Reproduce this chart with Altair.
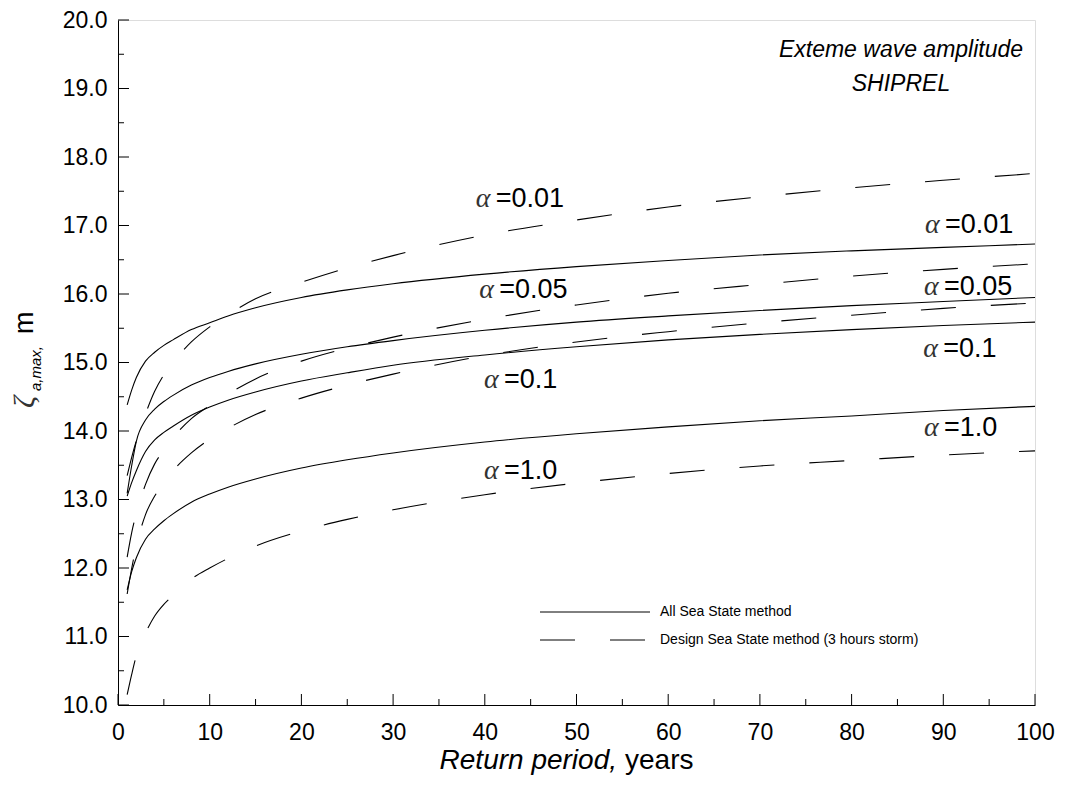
import altair as alt
import pandas as pd

# ---------------- data ----------------
x_years = [1, 1.5, 2, 3, 4, 5, 6, 8, 10, 12, 15, 20, 25, 30, 40, 50, 60, 70, 80, 90, 100]

# All Sea State method (solid)
all_001 = [14.38, 14.60, 14.78, 15.02, 15.15, 15.25, 15.33, 15.48, 15.58, 15.68, 15.80, 15.95, 16.06, 16.15, 16.29, 16.40, 16.49, 16.57, 16.63, 16.68, 16.73]
all_005 = [13.09, 13.50, 13.85, 14.16, 14.32, 14.43, 14.52, 14.67, 14.78, 14.87, 14.98, 15.12, 15.23, 15.32, 15.47, 15.59, 15.68, 15.76, 15.83, 15.89, 15.95]
all_01 = [13.05, 13.25, 13.42, 13.70, 13.87, 13.98, 14.07, 14.23, 14.35, 14.45, 14.57, 14.73, 14.85, 14.96, 15.11, 15.23, 15.33, 15.41, 15.48, 15.54, 15.59]
all_10 = [11.68, 11.95, 12.15, 12.42, 12.57, 12.69, 12.79, 12.96, 13.08, 13.18, 13.30, 13.46, 13.58, 13.68, 13.84, 13.96, 14.06, 14.15, 14.22, 14.30, 14.36]

# Design Sea State method, 3 hours storm (dashed)
dss_001 = [13.35, 13.62, 13.86, 14.25, 14.58, 14.82, 15.00, 15.30, 15.52, 15.70, 15.93, 16.17, 16.38, 16.56, 16.86, 17.08, 17.27, 17.42, 17.55, 17.66, 17.76]
dss_005 = [12.16, 12.52, 12.80, 13.22, 13.52, 13.72, 13.90, 14.18, 14.37, 14.54, 14.76, 15.02, 15.21, 15.37, 15.63, 15.84, 16.01, 16.14, 16.26, 16.36, 16.44]
dss_01 = [11.62, 12.00, 12.32, 12.78, 13.05, 13.25, 13.42, 13.68, 13.88, 14.04, 14.24, 14.48, 14.67, 14.83, 15.10, 15.30, 15.45, 15.58, 15.69, 15.79, 15.87]
dss_10 = [10.15, 10.45, 10.72, 11.05, 11.30, 11.47, 11.60, 11.84, 12.00, 12.14, 12.32, 12.54, 12.71, 12.85, 13.07, 13.24, 13.38, 13.49, 13.57, 13.65, 13.71]

alphas = ["0.01", "0.05", "0.1", "1.0"]

# curve labels (alpha values) and where they sit
label_text = ["=0.01", "=0.05", "=0.1", "=1.0", "=0.01", "=0.05", "=0.1", "=1.0"]
label_x = [39.0, 39.4, 39.9, 39.9, 88.0, 87.9, 87.8, 87.9]
label_y = [17.27, 15.94, 14.63, 13.30, 16.89, 15.99, 15.08, 13.93]

x_major = list(range(0, 101, 10))
x_minor = list(range(5, 100, 10))
y_major = [10.0, 11.0, 12.0, 13.0, 14.0, 15.0, 16.0, 17.0, 18.0, 19.0, 20.0]
y_minor = [10.5, 11.5, 12.5, 13.5, 14.5, 15.5, 16.5, 17.5, 18.5, 19.5]

title_lines = ["Exteme wave amplitude", "SHIPREL"]
legend_labels = ["All Sea State method", "Design Sea State method (3 hours storm)"]

# ---------------- build tables ----------------
def long(series_list):
    rows = []
    for a, ys in zip(alphas, series_list):
        for xv, yv in zip(x_years, ys):
            rows.append({"x": xv, "y": yv, "alpha": a})
    return pd.DataFrame(rows)

df_all = long([all_001, all_005, all_01, all_10])
df_dss = long([dss_001, dss_005, dss_01, dss_10])
df_lab = pd.DataFrame({"x": label_x, "y": label_y, "txt": label_text})

W, H = 917, 685
FONT = "Liberation Sans"

xscale = alt.Scale(domain=[0, 100], nice=False, zero=False)
yscale = alt.Scale(domain=[10, 20], nice=False, zero=False)

x_axis = alt.Axis(values=x_major, format="d", title=None, ticks=False, tickSize=0,
                  labelPadding=16, labelFontSize=23, labelFont=FONT, labelColor="black",
                  domainColor="black", domainWidth=1, grid=False, labelFlush=False)
y_axis = alt.Axis(values=y_major, format=".1f", title=None, ticks=False, tickSize=0,
                  labelPadding=11, labelFontSize=23, labelFont=FONT, labelColor="black",
                  domainColor="black", domainWidth=1, grid=False, labelFlush=False)

X = alt.X("x:Q", scale=xscale, axis=x_axis)
Y = alt.Y("y:Q", scale=yscale, axis=y_axis)

solid = alt.Chart(df_all).mark_line(color="black", strokeWidth=1.1, interpolate="monotone").encode(
    x=X, y=Y, detail="alpha:N")
dashed = alt.Chart(df_dss).mark_line(color="black", strokeWidth=1.1, strokeDash=[35, 35],
                                     interpolate="monotone").encode(
    x=X, y=Y, detail="alpha:N")

# inward ticks
ymaj = alt.Chart(pd.DataFrame({"y": y_major})).mark_rule(color="black", strokeWidth=1).encode(
    y=Y, x=alt.value(0), x2=alt.value(11))
ymin = alt.Chart(pd.DataFrame({"y": y_minor})).mark_rule(color="black", strokeWidth=1).encode(
    y=Y, x=alt.value(0), x2=alt.value(6))
xmaj = alt.Chart(pd.DataFrame({"x": x_major})).mark_rule(color="black", strokeWidth=1).encode(
    x=X, y=alt.value(H), y2=alt.value(H - 11))
xmin = alt.Chart(pd.DataFrame({"x": x_minor})).mark_rule(color="black", strokeWidth=1).encode(
    x=X, y=alt.value(H), y2=alt.value(H - 6))

# alpha labels
alpha_glyph = alt.Chart(df_lab).mark_text(align="left", baseline="alphabetic", font="Liberation Serif",
                                          fontStyle="italic", fontSize=28, color="#333333", text="α").encode(
    x=X, y=Y)
alpha_val = alt.Chart(df_lab).mark_text(align="left", baseline="alphabetic", font=FONT,
                                        fontSize=27, color="black", dx=20).encode(
    x=X, y=Y, text="txt:N")

one = pd.DataFrame({"a": [0]})

# title inside plot
t1 = alt.Chart(one).mark_text(align="center", baseline="alphabetic", font=FONT, fontStyle="italic",
                              fontSize=23, color="black", text=title_lines[0]).encode(
    x=alt.value(783), y=alt.value(37))
t2 = alt.Chart(one).mark_text(align="center", baseline="alphabetic", font=FONT, fontStyle="italic",
                              fontSize=23, color="black", text=title_lines[1]).encode(
    x=alt.value(783), y=alt.value(71))

# legend
leg1 = alt.Chart(one).mark_rule(color="black", strokeWidth=1).encode(
    x=alt.value(422), x2=alt.value(532), y=alt.value(592))
leg2 = alt.Chart(one).mark_rule(color="black", strokeWidth=1, strokeDash=[35, 35]).encode(
    x=alt.value(422), x2=alt.value(532), y=alt.value(620))
legt1 = alt.Chart(one).mark_text(align="left", baseline="middle", font=FONT, fontSize=14,
                                 color="black", text=legend_labels[0]).encode(
    x=alt.value(542), y=alt.value(592))
legt2 = alt.Chart(one).mark_text(align="left", baseline="middle", font=FONT, fontSize=14,
                                 color="black", text=legend_labels[1]).encode(
    x=alt.value(542), y=alt.value(620))

# axis titles
xt1 = alt.Chart(one).mark_text(align="right", baseline="alphabetic", font=FONT, fontStyle="italic",
                               fontSize=28, color="black", text="Return period,").encode(
    x=alt.value(499), y=alt.value(749))
xt2 = alt.Chart(one).mark_text(align="left", baseline="alphabetic", font=FONT,
                               fontSize=28, color="black", text="years").encode(
    x=alt.value(507), y=alt.value(749))

yt1 = alt.Chart(one).mark_text(align="left", baseline="alphabetic", font="Liberation Serif",
                               fontStyle="italic", fontSize=30, color="#333333", angle=270, text="ζ").encode(
    x=alt.value(-84), y=alt.value(388))
yt2 = alt.Chart(one).mark_text(align="left", baseline="alphabetic", font=FONT, fontStyle="italic",
                               fontSize=15, color="black", angle=270, text="a,max,").encode(
    x=alt.value(-77), y=alt.value(371))
yt3 = alt.Chart(one).mark_text(align="left", baseline="alphabetic", font=FONT,
                               fontSize=27, color="black", angle=270, text="m").encode(
    x=alt.value(-85), y=alt.value(314))

chart = alt.layer(
    solid, dashed, ymaj, ymin, xmaj, xmin, alpha_glyph, alpha_val, t1, t2,
    leg1, leg2, legt1, legt2, xt1, xt2, yt1, yt2, yt3
).properties(
    width=W, height=H,
    autosize=alt.AutoSizeParams(type="none"),
    padding={"left": 110, "top": 12, "right": 22, "bottom": 72},
).configure_view(stroke="black", strokeWidth=1).configure(background="white")

chart.save("out.html", embed_options={"renderer": "svg", "actions": False})
